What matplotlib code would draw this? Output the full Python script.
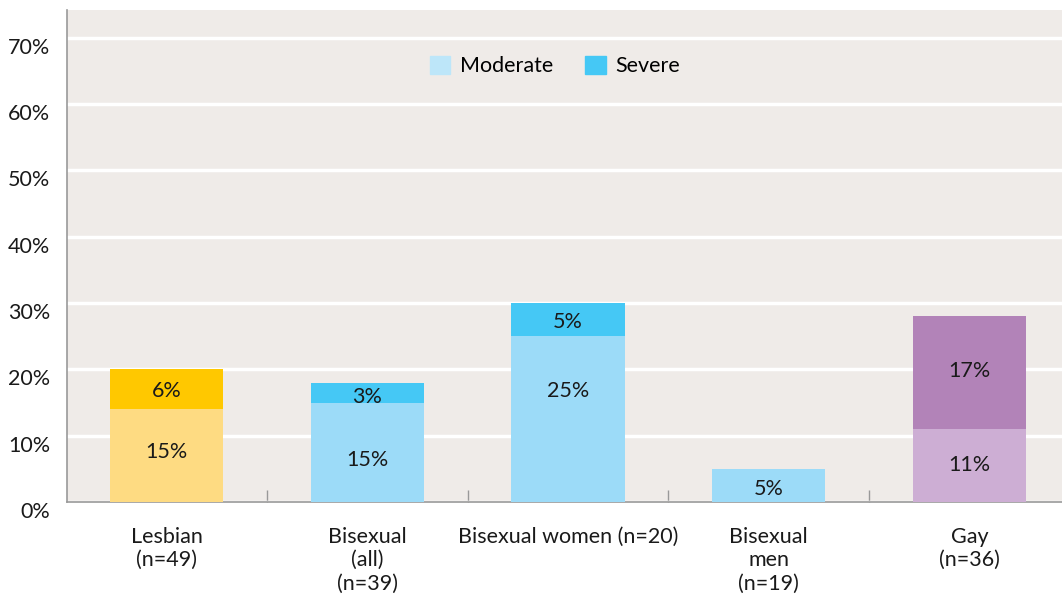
import matplotlib
matplotlib.use("Agg")
import matplotlib.pyplot as plt
from matplotlib.patches import Patch
import matplotlib.transforms as mtransforms

categories = ["Lesbian\n(n=49)", "Bisexual\n(all)\n(n=39)", "Bisexual women (n=20)",
              "Bisexual\nmen\n(n=19)", "Gay\n(n=36)"]
moderate = [14, 15, 25, 5, 11]
severe = [6, 3, 5, 0, 17]
moderate_labels = ["15%", "15%", "25%", "5%", "11%"]
severe_labels = ["6%", "3%", "5%", "", "17%"]
yticks = [0, 10, 20, 30, 40, 50, 60, 70]

mod_colors = ["#fedb82", "#9cdbf8", "#9cdbf8", "#9cdbf8", "#cdaed4"]
sev_colors = ["#ffc800", "#45c8f5", "#45c8f5", "#45c8f5", "#b283b8"]
# small vertical nudges of the value labels (in % units), as in the original layout
mod_label_shift = [0.6, -1.1, 4.3, -0.5, 0.1]
sev_label_shift = [-0.3, -0.6, -0.4, 0.0, 0.3]

plt.rcParams['font.family'] = ['Lato', 'DejaVu Sans']
FS = 15.5

fig = plt.figure(figsize=(10.62, 6.01), dpi=100)
ax = fig.add_axes([67/1062, 99/601, 1 - 67/1062, 492/601])
ax.set_facecolor("#efebe8")

x = list(range(len(categories)))
w = 0.563
ax.bar(x, moderate, width=w, color=mod_colors, zorder=3)
ax.bar(x, severe, width=w, bottom=moderate, color=sev_colors, zorder=3)

for i in x:
    if moderate_labels[i]:
        ax.text(i, moderate[i] / 2 + mod_label_shift[i], moderate_labels[i], ha="center", va="center",
                fontsize=FS, color="#1a1a1a", zorder=4)
    if severe_labels[i]:
        ax.text(i, moderate[i] + severe[i] / 2 + sev_label_shift[i], severe_labels[i], ha="center",
                va="center", fontsize=FS, color="#1a1a1a", zorder=4)

ax.set_xlim(-0.4956, 4.4608)
ax.set_ylim(0, 74.2)
ax.set_yticks(yticks)
ax.set_yticklabels([f"{t}%" for t in yticks], fontsize=FS, color="#1a1a1a")
ax.tick_params(axis="y", length=0, pad=12)
offset = mtransforms.ScaledTranslation(0, -8/100, fig.dpi_scale_trans)
for lab in ax.get_yticklabels():
    lab.set_transform(lab.get_transform() + offset)
ax.grid(axis="y", color="white", linewidth=2.5, zorder=1)

ax.set_xticks(x)
ax.set_xticklabels(categories, fontsize=FS, color="#1a1a1a", va="top", linespacing=1.2)
ax.tick_params(axis="x", length=0, pad=18)
ax.set_xticks([0.5, 1.5, 2.5, 3.5], minor=True)
ax.tick_params(axis="x", which="minor", direction="in", length=9, color="#999999", width=1)

for s in ["top", "right"]:
    ax.spines[s].set_visible(False)
ax.spines["left"].set_color("#999999")
ax.spines["bottom"].set_color("#999999")
ax.spines["left"].set_linewidth(1.2)
ax.spines["bottom"].set_linewidth(1.2)

handles = [Patch(color="#bde6f9", label="Moderate"), Patch(color="#45c8f5", label="Severe")]
leg = ax.legend(handles=handles, loc="center", bbox_to_anchor=((555 - 67) / 995, (601 - 66 - 99) / 492),
                ncol=2, frameon=False, fontsize=FS, handlelength=0.95, handleheight=0.95,
                columnspacing=1.5, handletextpad=0.45)

fig.savefig("out.png", dpi=100)
